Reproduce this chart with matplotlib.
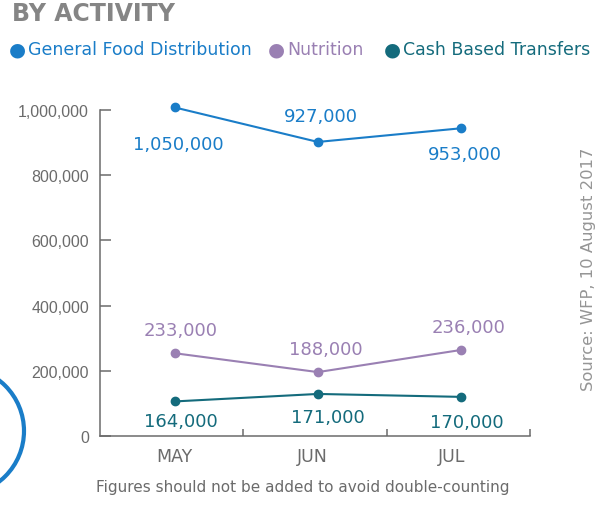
import numpy as np
import matplotlib
matplotlib.use("Agg")
import matplotlib.pyplot as plt
from matplotlib.patches import Circle
from matplotlib.transforms import IdentityTransform

# categories and series (values where the dots are drawn)
months = ["MAY", "JUN", "JUL"]
gfd = [1008000, 902000, 944000]
nutrition = [254000, 196000, 264000]
cbt = [106000, 129000, 120000]

# printed value labels
gfd_labels = ["1,050,000", "927,000", "953,000"]
nutrition_labels = ["233,000", "188,000", "236,000"]
cbt_labels = ["164,000", "171,000", "170,000"]

yticks = [0, 200000, 400000, 600000, 800000, 1000000]
ytick_labels = ["0", "200,000", "400,000", "600,000", "800,000", "1,000,000"]

BLUE = "#1a7dc8"
PURPLE = "#9a80b3"
TEAL = "#146b7c"
GREY = "#6b6b6b"

plt.rcParams["font.family"] = ["DejaVu Sans"]

fig = plt.figure(figsize=(6.04, 5.06), dpi=100)
ax = fig.add_axes([100 / 604, 69 / 506, 430 / 604, 326 / 506])

x = np.arange(len(months)) + 0.5
series = [
    (gfd, gfd_labels, BLUE, [(4, -42), (3, 21), (4, -31)]),
    (nutrition, nutrition_labels, PURPLE, [(6, 18), (8, 18), (7, 18)]),
    (cbt, cbt_labels, TEAL, [(6, -25), (10, -28), (6, -30)]),
]
for vals, labels, col, offs in series:
    ax.plot(x, vals, color=col, lw=1.5, marker="o", ms=6, clip_on=False, zorder=3)
    for xi, v, lab, (dx, dy) in zip(x, vals, labels, offs):
        ax.annotate(lab, (xi, v), xytext=(dx, dy), textcoords="offset pixels",
                    ha="center", va="baseline", fontsize=13, color=col,
                    annotation_clip=False)

ax.set_xlim(-0.02, 2.98)
ax.set_ylim(0, 1000000)

ax.set_yticks(yticks)
ax.set_yticklabels(ytick_labels, family=["Liberation Sans", "DejaVu Sans"],
                   fontsize=11.5, color=GREY)
ax.tick_params(axis="y", direction="in", length=8, width=1.1, color=GREY, pad=8)

ax.set_xticks(np.arange(1, 4) - 0.02)
ax.set_xticklabels([])
ax.tick_params(axis="x", which="major", direction="in", length=5, width=1.1, color=GREY)
# month labels sit a little left of the dots in the original
ax.set_xticks(x - np.array([0.0, 0.04, 0.07]), minor=True)
ax.set_xticklabels(months, minor=True, fontsize=12.5, color=GREY)
ax.tick_params(axis="x", which="minor", length=0, pad=8)

for side in ["top", "right"]:
    ax.spines[side].set_visible(False)
for side in ["left", "bottom"]:
    ax.spines[side].set_color(GREY)
    ax.spines[side].set_linewidth(1.1)

# title and legend
fig.text(12 / 604, 1 - 14 / 506, "BY ACTIVITY", fontsize=17, fontweight="bold",
         color="#858585", va="center", ha="left")
legend_items = [("General Food Distribution", BLUE, 17),
                ("Nutrition", PURPLE, 276),
                ("Cash Based Transfers", TEAL, 392)]
for name, col, px in legend_items:
    fig.text(px / 604, 1 - 50 / 506, "\u25CF", fontsize=14, color=col,
             va="center", ha="center")
    fig.text((px + 11) / 604, 1 - 50 / 506, name, fontsize=12.5, color=col,
             va="center", ha="left")

fig.text(303 / 604, 1 - 488 / 506,
         "Figures should not be added to avoid double-counting",
         fontsize=11, color=GREY, ha="center", va="center")
fig.text(589 / 604, 1 - 269 / 506, "Source: WFP, 10 August 2017",
         fontsize=11.8, color="#959595", rotation=90, ha="center", va="center")

# decorative blue ring at the bottom-left corner
fig.add_artist(Circle((-40, 506 - 432), 64, transform=IdentityTransform(),
                      fill=False, ec=BLUE, lw=3))

fig.savefig("out.png", dpi=100)
